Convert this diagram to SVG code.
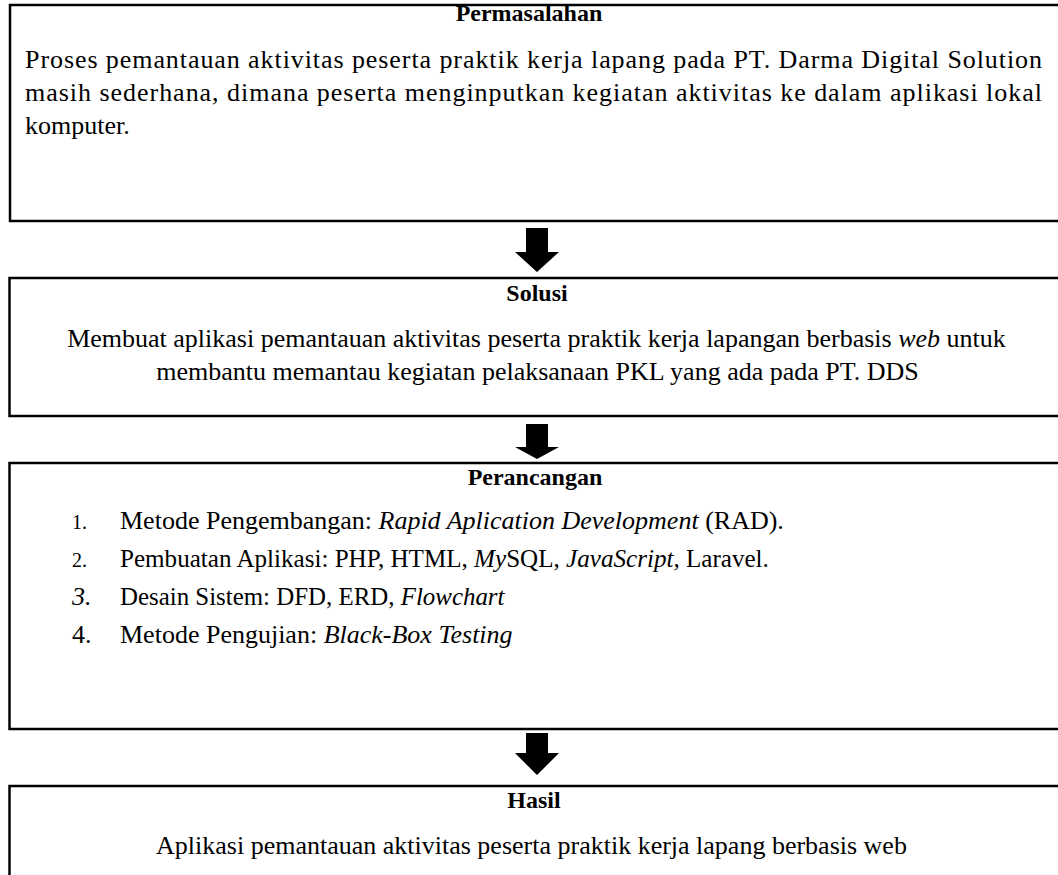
<svg xmlns="http://www.w3.org/2000/svg" width="1058" height="875" viewBox="0 0 1058 875">
  <defs>
    <style>
      .box { fill: #ffffff; stroke: #000000; stroke-width: 2.5; }
      .t { font-family: "Liberation Serif", "Times New Roman", serif; font-size: 26px; fill: #000000; }
      .h { font-weight: bold; text-anchor: middle; font-size: 24px; }
      .c { text-anchor: middle; }
      .i { font-style: italic; }
      .n { font-size: 20px; }
      .arrow { fill: #000000; }
    </style>
  </defs>
  <rect width="1058" height="875" fill="#ffffff"/>

  <g id="permasalahan">
    <rect class="box" x="10" y="5" width="1060" height="216"/>
    <text class="t h" x="529" y="21">Permasalahan</text>
    <text class="t" x="25" y="68" textLength="1017" lengthAdjust="spacing">Proses pemantauan aktivitas peserta praktik kerja lapang pada PT. Darma Digital Solution</text>
    <text class="t" x="25" y="101" textLength="1017" lengthAdjust="spacing">masih sederhana, dimana peserta menginputkan kegiatan aktivitas ke dalam aplikasi lokal</text>
    <text class="t" x="25" y="134">komputer.</text>
  </g>

  <g id="solusi">
    <rect class="box" x="9.5" y="278" width="1060" height="138"/>
    <text class="t h" x="537" y="301">Solusi</text>
    <text class="t c" x="536.5" y="347">Membuat aplikasi pemantauan aktivitas peserta praktik kerja lapangan berbasis <tspan class="i">web</tspan> untuk</text>
    <text class="t c" x="537.5" y="380">membantu memantau kegiatan pelaksanaan PKL yang ada pada PT. DDS</text>
  </g>

  <g id="perancangan">
    <rect class="box" x="9.5" y="463" width="1060" height="266"/>
    <text class="t h" x="535" y="485">Perancangan</text>
    <text class="t n" x="72" y="529">1.</text>
    <text class="t" x="120" y="529">Metode Pengembangan: <tspan class="i">Rapid Aplication Development</tspan> (RAD).</text>
    <text class="t n" x="72" y="567">2.</text>
    <text class="t" x="120" y="567" style="font-size:25.1px">Pembuatan Aplikasi: PHP, HTML, <tspan class="i">My</tspan>SQL, <tspan class="i">JavaScript,</tspan> Laravel.</text>
    <text class="t i" x="72" y="605">3.</text>
    <text class="t" x="120" y="605" style="font-size:24.9px">Desain Sistem: DFD, ERD, <tspan class="i">Flowchart</tspan></text>
    <text class="t" x="72" y="643">4.</text>
    <text class="t" x="120" y="643">Metode Pengujian: <tspan class="i">Black-Box Testing</tspan></text>
  </g>

  <g id="hasil">
    <rect class="box" x="9.5" y="786" width="1060" height="120"/>
    <text class="t h" x="534" y="808">Hasil</text>
    <text class="t c" x="531.5" y="854">Aplikasi pemantauan aktivitas peserta praktik kerja lapang berbasis web</text>
  </g>

  <g id="connectors">
    <polygon class="arrow" points="526,228 548,228 548,252 559,252 537,272 515,252 526,252"/>
    <polygon class="arrow" points="526,424 548,424 548,447 559,447 537,459 515,447 526,447"/>
    <polygon class="arrow" points="526,733 548,733 548,753 559,753 537,775 515,753 526,753"/>
  </g>
</svg>
